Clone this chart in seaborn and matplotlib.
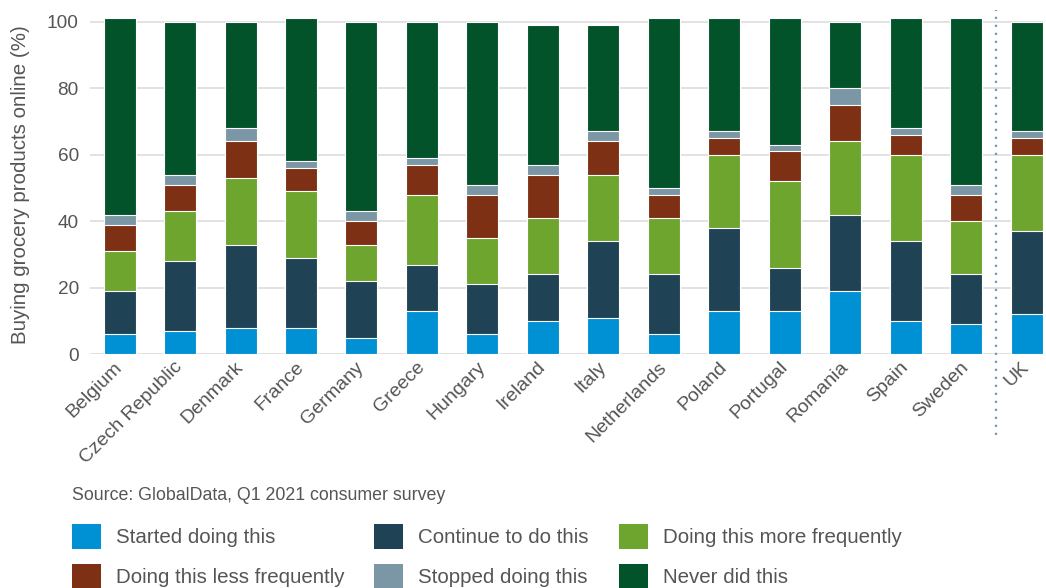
import matplotlib
matplotlib.use("Agg")
import matplotlib.pyplot as plt
from matplotlib.patches import Patch
from matplotlib.transforms import ScaledTranslation
import numpy as np
import pandas as pd
import seaborn as sns

# Survey results: share of respondents by online grocery shopping behaviour (%)
countries = ["Belgium", "Czech Republic", "Denmark", "France", "Germany", "Greece",
             "Hungary", "Ireland", "Italy", "Netherlands", "Poland", "Portugal",
             "Romania", "Spain", "Sweden", "UK"]
started = [6, 7, 8, 8, 5, 13, 6, 10, 11, 6, 13, 13, 19, 10, 9, 12]
continued = [13, 21, 25, 21, 17, 14, 15, 14, 23, 18, 25, 13, 23, 24, 15, 25]
more_often = [12, 15, 20, 20, 11, 21, 14, 17, 20, 17, 22, 26, 22, 26, 16, 23]
less_often = [8, 8, 11, 7, 7, 9, 13, 13, 10, 7, 5, 9, 11, 6, 8, 5]
stopped = [3, 3, 4, 2, 3, 2, 3, 3, 3, 2, 2, 2, 5, 2, 3, 2]
never = [59, 46, 32, 43, 57, 41, 49, 42, 32, 51, 34, 38, 20, 33, 50, 33]

series_names = ["Started doing this", "Continue to do this", "Doing this more frequently",
                "Doing this less frequently", "Stopped doing this", "Never did this"]
series_values = [started, continued, more_often, less_often, stopped, never]
colors = ["#0091d5", "#1f4354", "#6ea52f", "#7e3014", "#7b97a5", "#03532a"]

sns.set_theme(style="white")
plt.rcParams["font.family"] = ["Liberation Sans", "DejaVu Sans"]

df = pd.DataFrame({"country": countries})
for name, vals in zip(series_names, series_values):
    df[name] = vals
cum = df[series_names].cumsum(axis=1)

fig = plt.figure(figsize=(10.46, 5.88), dpi=100)
ax = fig.add_axes([0.0860, 0.3974, 0.9111, 0.5771])

# stacked bars: draw cumulative totals from the top layer down
for name, color in reversed(list(zip(series_names, colors))):
    sns.barplot(x=df["country"], y=cum[name], color=color, saturation=1, width=0.53,
                edgecolor="white", linewidth=0.8, ax=ax, zorder=2)

ax.set_ylim(0, 102)
ax.set_xlim(-0.49, 15.27)
ax.set_yticks([0, 20, 40, 60, 80, 100])
for yv in [0, 20, 40, 60, 80, 100]:
    ax.axhline(yv, color="#dfdfdf", lw=1.3, zorder=0)
for s in ax.spines.values():
    s.set_visible(False)

ax.tick_params(axis="y", length=0, pad=8, labelsize=13.7, labelcolor="#555555")
ax.tick_params(axis="x", length=0, pad=3, labelsize=14, labelcolor="#555555")
ax.set_xticks(range(len(countries)))
ax.set_xticklabels(countries, rotation=45, ha="right")
shift = ScaledTranslation(6 / 100, 0, fig.dpi_scale_trans)
for lbl in ax.get_xticklabels():
    lbl.set_transform(lbl.get_transform() + shift)
ax.set_xlabel("")
ax.set_ylabel("Buying grocery products online (%)", fontsize=14.8, color="#555555", labelpad=12)

# separator between the EU countries and the UK
ax.plot([14.5, 14.5], [-0.238, 1.015], transform=ax.get_xaxis_transform(),
        color="#7d97a8", lw=1.6, linestyle=(0, (1, 2.6)), clip_on=False, zorder=3)

fig.text(0.0688, 1 - 496 / 588, "Source: GlobalData, Q1 2021 consumer survey",
         fontsize=12.8, color="#555555", va="center", ha="left")

order = [0, 3, 1, 4, 2, 5]
handles = [Patch(facecolor=colors[i], edgecolor="none") for i in order]
labels = [series_names[i] for i in order]
fig.legend(handles, labels, loc="upper left", bbox_to_anchor=(0.0688, 1 - 524 / 588),
           ncol=3, frameon=False, fontsize=14.8, handlelength=1.41, handleheight=1.46,
           handletextpad=0.73, columnspacing=1.45, labelspacing=0.74, borderpad=0,
           borderaxespad=0, labelcolor="#555555")

fig.savefig("out.png", dpi=100)
